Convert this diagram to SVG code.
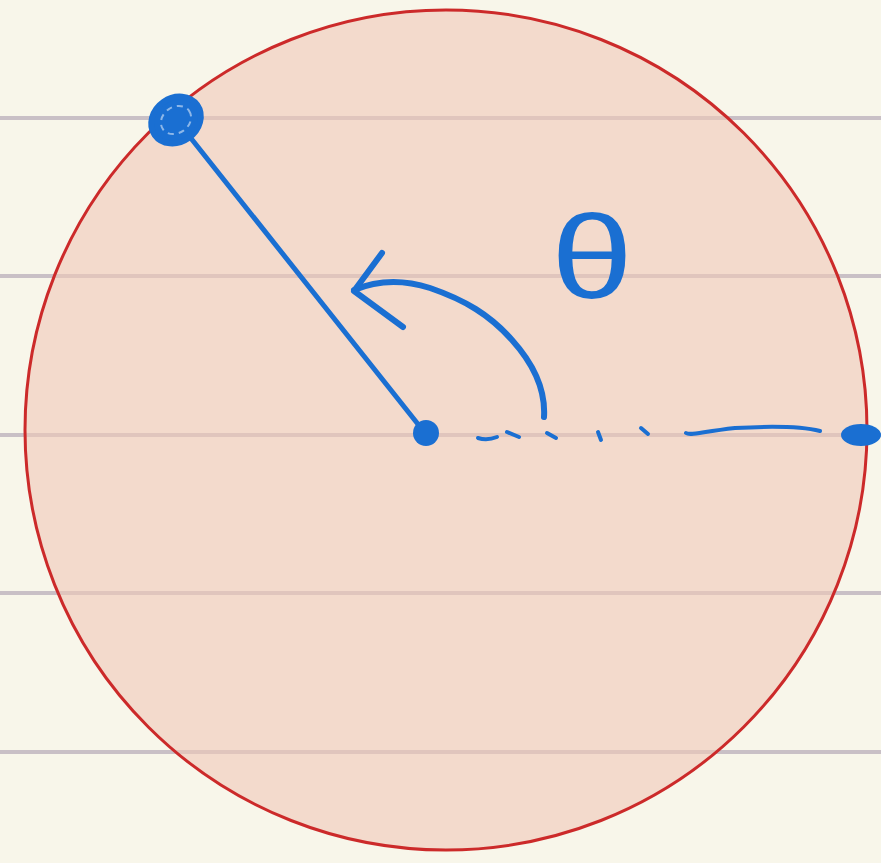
<svg xmlns="http://www.w3.org/2000/svg" width="881" height="863" viewBox="0 0 881 863">
<style>
.rule{stroke:#c9c0c6;stroke-width:4}
.ink{stroke:#1a6fd2;fill:none;stroke-linecap:round;stroke-linejoin:round}
</style>
<rect width="881" height="863" fill="#f8f6ea"/>
<g id="paper-lines">
<line class="rule" x1="0" y1="118" x2="881" y2="118"/>
<line class="rule" x1="0" y1="276" x2="881" y2="276"/>
<line class="rule" x1="0" y1="435" x2="881" y2="435"/>
<line class="rule" x1="0" y1="593" x2="881" y2="593"/>
<line class="rule" x1="0" y1="752" x2="881" y2="752"/>
</g>
<g id="circle">
<ellipse cx="446" cy="430" rx="421" ry="420" fill="#f0c8b8" fill-opacity="0.6" stroke="#cc2a2a" stroke-width="3"/>
</g>
<g id="connectors">
<path class="ink" stroke-width="5" d="M425,433 L186,132"/>
<path class="ink" stroke-width="6" d="M544,417 C546,385 530,360 512,340 C490,315 465,300 430,288 C405,280 380,279 354,290"/>
<path class="ink" stroke-width="6" d="M382,253 L354,291 L403,327"/>
<g class="ink" stroke-width="4">
<path d="M478,438 Q487,441 497,437"/>
<path d="M507,432 L519,437"/>
<path d="M547,433 L556,438"/>
<path d="M598,432 L601,440"/>
<path d="M641,428 L648,434"/>
<path d="M686,433 C690,436 700,432 735,428 C770,426 800,426 820,431"/>
</g>
</g>
<g id="point-top">
<ellipse cx="176" cy="120" rx="26" ry="22" transform="rotate(-35 176 120)" fill="#1a6fd2" stroke="#1a6fd2" stroke-width="6"/>
<ellipse cx="176" cy="120" rx="16" ry="13" transform="rotate(-35 176 120)" fill="none" stroke="#ffffff" stroke-opacity="0.5" stroke-width="2" stroke-dasharray="6 5"/>
</g>
<g id="point-center">
<circle cx="426" cy="433" r="13" fill="#1a6fd2"/>
</g>
<g id="point-right">
<ellipse cx="861" cy="435" rx="20" ry="11" fill="#1a6fd2"/>
</g>
<g id="label-theta">
<text x="0" y="0" transform="translate(592 298) scale(1.25 1)" font-family="Liberation Sans, sans-serif" font-size="118" fill="#1a6fd2" text-anchor="middle">θ</text>
</g>
</svg>
